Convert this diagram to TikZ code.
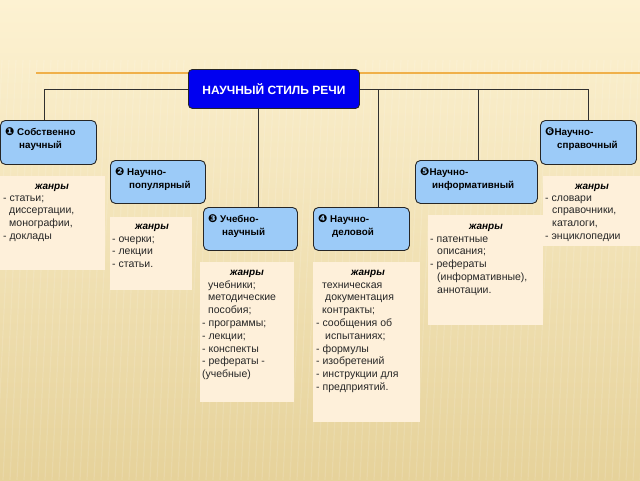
\documentclass[tikz,border=0pt]{standalone}
\usepackage{fontspec}
\setmainfont{Liberation Sans}
\newfontfamily\symfont{DejaVu Sans}
\definecolor{bgtop}{HTML}{FDF2D2}
\definecolor{bgbot}{HTML}{E6D29A}
\definecolor{orline}{HTML}{F0B04A}
\definecolor{boxblue}{HTML}{9CCBF8}
\definecolor{titleblue}{HTML}{0000F0}
\definecolor{cream}{HTML}{FEF0DA}
\definecolor{conn}{HTML}{303030}
\tikzset{
  kind/.style={draw=black!85, line width=0.9pt, fill=boxblue, rounded corners=5pt},
  genre/.style={fill=cream, draw=none},
  ktext/.style={font=\fontsize{9.8}{13}\selectfont\bfseries, inner sep=0pt, anchor=north west, align=left},
  gtext/.style={font=\fontsize{10.5}{12.8}\selectfont, inner sep=0pt, anchor=north west, align=left, text=black!85},
  ghead/.style={font=\fontsize{10}{12}\selectfont\bfseries\itshape, inner sep=0pt, anchor=base},
  link/.style={draw=conn, line width=0.8pt}
}
\newcommand{\ci}[1]{{\symfont\fontsize{11}{13}\selectfont #1}}
\begin{document}
\begin{tikzpicture}[x=1pt,y=-1pt]
\useasboundingbox (0,0) rectangle (640,480);
\shade[top color=bgtop, bottom color=bgbot] (0,0) rectangle (640,480);
% faint stripes
\foreach \i in {0,7,...,700} {
  \draw[white, opacity=0.12, line width=1.2pt] (\i-40,60) -- (\i-60,480);
}
\draw[orline, line width=1.3pt] (36,73) -- (640,73);

% connector coordinates
\coordinate (h0) at (44,89);
\coordinate (h1) at (588,89);
\coordinate (j4) at (378,89);
\coordinate (j5) at (478,89);
\coordinate (j3) at (258,89);

% genre boxes
\fill[genre] (0,176) rectangle (105,270);
\fill[genre] (110,217) rectangle (192,290);
\fill[genre] (200,262) rectangle (294,402);
\fill[genre] (313,262) rectangle (420,422);
\fill[genre] (428,215) rectangle (543,325);
\fill[genre] (543,176) rectangle (640,246);

% kind boxes
\node[kind, minimum width=96pt, minimum height=44pt, anchor=north west] (k1) at (0,120) {};
\node[kind, minimum width=95pt, minimum height=43pt, anchor=north west] (k2) at (110,160) {};
\node[kind, minimum width=94pt, minimum height=43pt, anchor=north west] (k3) at (203,207) {};
\node[kind, minimum width=96pt, minimum height=43pt, anchor=north west] (k4) at (313,207) {};
\node[kind, minimum width=122pt, minimum height=43pt, anchor=north west] (k5) at (415,160) {};
\node[kind, minimum width=96pt, minimum height=44pt, anchor=north west] (k6) at (540,120) {};

\node[draw=black!85, line width=0.9pt, fill=titleblue, rounded corners=4pt, minimum width=171pt, minimum height=39pt, anchor=north west] (title) at (188,69) {};
\node[text=white, font=\fontsize{12}{14}\selectfont\bfseries, inner sep=0pt] (ttext) at (title.center) {НАУЧНЫЙ СТИЛЬ РЕЧИ};

% connectors
\draw[link] (title.west |- h0) -- (h0) -- (h0 |- k1.north);
\draw[link] (title.east |- h1) -- (h1) -- (h1 |- k6.north);
\draw[link] (j4) -- (j4 |- k4.north);
\draw[link] (j5) -- (j5 |- k5.north);
\draw[link] (j3 |- title.south) -- (j3 |- k3.north);

% kind texts
\node[ktext] (t1) at (5,126) {\strut\ci{❶} Собственно\\\hspace*{14pt}научный};
\node[ktext] (t2) at (115,166) {\strut\ci{❷} Научно-\\\hspace*{14pt}популярный};
\node[ktext] (t3) at (208,213) {\strut\ci{❸} Учебно-\\\hspace*{14pt}научный};
\node[ktext] (t4) at (318,213) {\strut\ci{❹} Научно-\\\hspace*{14pt}деловой};
\node[ktext] (t5) at (420,166) {\strut\ci{❺}Научно-\\\hspace*{12pt}информативный};
\node[ktext] (t6) at (545,126) {\strut\ci{❻}Научно-\\\hspace*{12pt}справочный};

% genre texts
\node[ghead] (g1h) at (52,189) {жанры};
\node[gtext] (g1) at (3,192) {\strut- статьи;\\\hspace*{6pt}диссертации,\\\hspace*{6pt}монографии,\\- доклады};
\node[ghead] (g2h) at (152,229) {жанры};
\node[gtext] (g2) at (112,233) {\strut- очерки;\\- лекции\\- статьи.};
\node[ghead] (g3h) at (247,275) {жанры};
\node[gtext] (g3) at (202,279) {\strut\hspace*{6pt}учебники;\\\hspace*{6pt}методические\\\hspace*{6pt}пособия;\\- программы;\\- лекции;\\- конспекты\\- рефераты -\\(учебные)};
\node[ghead] (g4h) at (368,275) {жанры};
\node[gtext] (g4) at (316,279) {\strut\hspace*{6pt}техническая\\\hspace*{9pt}документация\\\hspace*{6pt}контракты;\\- сообщения об\\\hspace*{9pt}испытаниях;\\- формулы\\- изобретений\\- инструкции для\\- предприятий.};
\node[ghead] (g5h) at (486,229) {жанры};
\node[gtext] (g5) at (430,233) {\strut- патентные\\\hspace*{7pt}описания;\\- рефераты\\\hspace*{7pt}(информативные),\\\hspace*{7pt}аннотации.};
\node[ghead] (g6h) at (592,189) {жанры};
\node[gtext] (g6) at (545,192) {\strut- словари\\\hspace*{7pt}справочники,\\\hspace*{7pt}каталоги,\\- энциклопедии};
\end{tikzpicture}
\end{document}
